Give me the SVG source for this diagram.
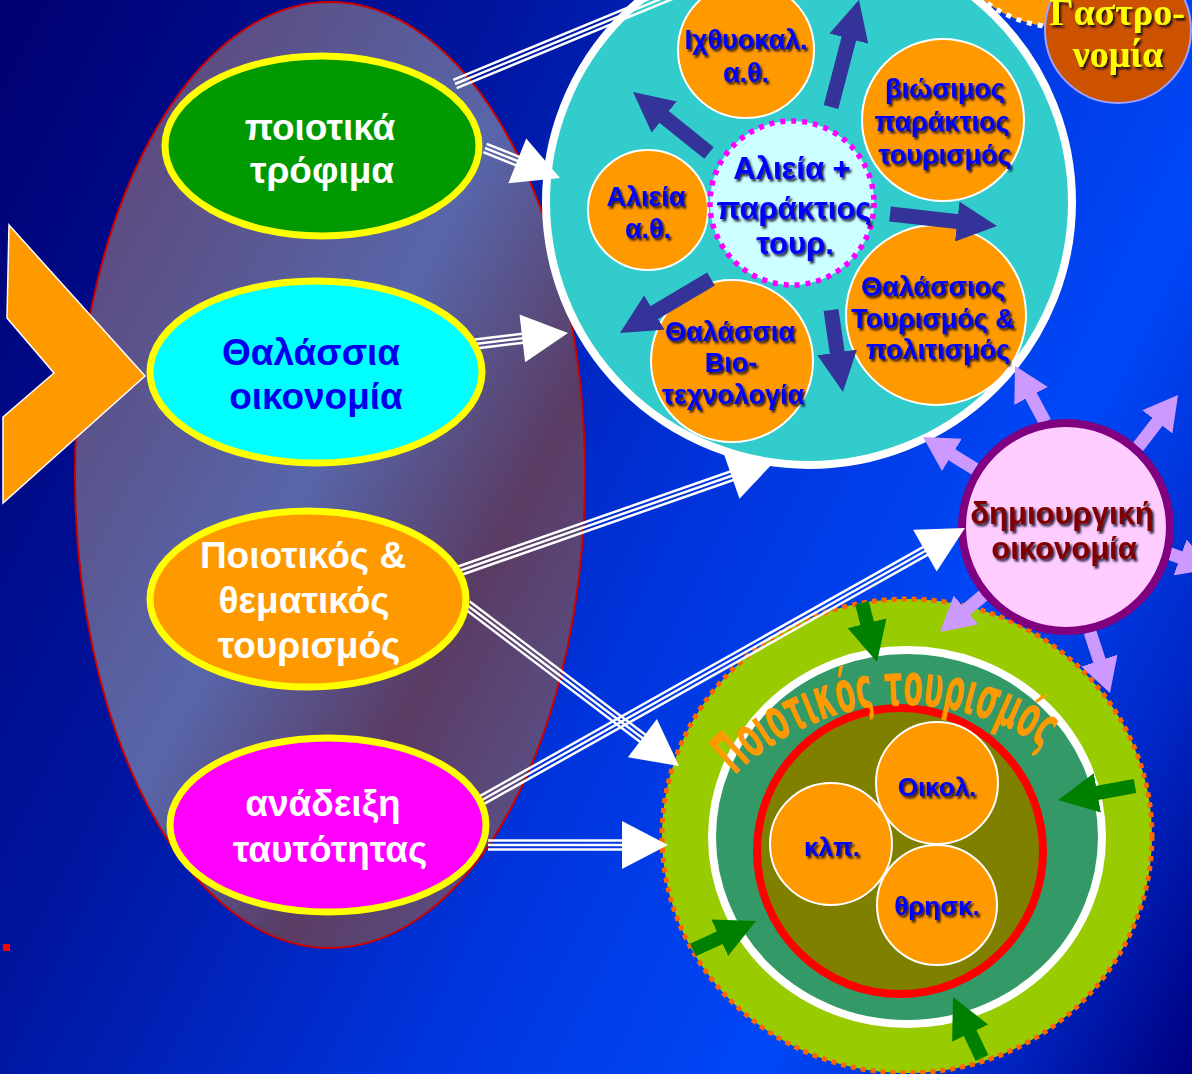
<svg xmlns="http://www.w3.org/2000/svg" width="1192" height="1074" viewBox="0 0 1192 1074">
<defs>
<linearGradient id="bg" gradientUnits="userSpaceOnUse" x1="0" y1="0" x2="1380" y2="690">
<stop offset="0" stop-color="#000070"/>
<stop offset="0.3" stop-color="#0016a0"/>
<stop offset="0.55" stop-color="#0034dc"/>
<stop offset="0.75" stop-color="#0048f8"/>
<stop offset="0.88" stop-color="#0028c8"/>
<stop offset="1" stop-color="#000080"/>
</linearGradient>
<linearGradient id="eg" x1="0" y1="0" x2="1" y2="1">
<stop offset="0" stop-color="#604070"/>
<stop offset="0.28" stop-color="#5a5690"/>
<stop offset="0.48" stop-color="#5866aa"/>
<stop offset="0.7" stop-color="#5a3c64"/>
<stop offset="1" stop-color="#5a5c9c"/>
</linearGradient>
<filter id="sh" x="-10%" y="-20%" width="130%" height="160%">
<feDropShadow dx="2" dy="2.5" stdDeviation="1" flood-color="#000022" flood-opacity="0.85"/>
</filter>
<marker id="mb" viewBox="0 0 40 40" refX="23" refY="20" markerWidth="40" markerHeight="40" markerUnits="userSpaceOnUse" orient="auto"><path d="M0,0 L40,20 L0,40z" fill="#333399"/></marker>
<marker id="mg" viewBox="0 0 40 40" refX="23" refY="20" markerWidth="40" markerHeight="40" markerUnits="userSpaceOnUse" orient="auto"><path d="M0,0 L40,20 L0,40z" fill="#008000"/></marker>
<marker id="ml" viewBox="0 0 34 38" refX="19" refY="19" markerWidth="34" markerHeight="38" markerUnits="userSpaceOnUse" orient="auto"><path d="M0,0 L34,19 L0,38z" fill="#cc99ff"/></marker>
<path id="arch" d="M734.6,775.6 A241,241 0 0 1 1043.2,748.6"/>
<path id="p1" d="M455,84 L680,-9"/>
<path id="p2" d="M485,148 L520,162"/>
<path id="p3" d="M467,345 L525,338"/>
<path id="p4" d="M456,572 L734,475"/>
<path id="p5" d="M467,605 L645,740"/>
<path id="p6" d="M482,800 L927,550"/>
<path id="p7" d="M488,845 L625,845"/>
</defs>
<style>
.tl{fill:none;stroke:#ffffff;stroke-width:2.5}
.hd{fill:#ffffff}
.yel{stroke:#ffff00;stroke-width:7}
.lt{font-family:"Liberation Sans",Arial,sans-serif;font-weight:bold;font-size:37px;text-anchor:middle}
.ct{font-family:"Liberation Sans",Arial,sans-serif;font-weight:bold;text-anchor:middle;fill:#0000ff}
.oc{fill:#ff9900;stroke:#ffffff;stroke-width:2}
.ba{fill:none;stroke:#333399;stroke-width:15;marker-end:url(#mb)}
.ga{fill:none;stroke:#008000;stroke-width:14;marker-end:url(#mg)}
.la{fill:none;stroke:#cc99ff;stroke-width:13;marker-end:url(#ml)}
</style>
<rect x="0" y="0" width="1192" height="1074" fill="url(#bg)"/>
<rect x="3" y="944" width="7" height="7" fill="#ff0000"/>

<g id="big-ellipse">
<ellipse cx="330" cy="475" rx="255" ry="473" fill="url(#eg)" stroke="#cc0000" stroke-width="2"/>
</g>
<g id="chevron">
<polygon points="9,225 145,376 3,503 3,417 54,373 7,318" fill="#ff9900" stroke="#ffffff" stroke-width="1.5"/>
</g>

<g id="gastro-back">
<circle cx="1060" cy="-95" r="122" fill="#ff9900" stroke="#ffffff" stroke-width="5" stroke-dasharray="5 6"/>
</g>

<g id="teal-circle">
<circle cx="809" cy="202" r="263" fill="#33cccc" stroke="#ffffff" stroke-width="8"/>
</g>
<g id="n-ixthyo">
<circle class="oc" cx="746" cy="50" r="68"/>
<text class="ct" font-size="27" filter="url(#sh)"><tspan x="746" y="49">Ιχθυοκαλ.</tspan><tspan x="746" y="82">α.θ.</tspan></text>
</g>
<g id="n-viosimos">
<circle class="oc" cx="943" cy="120" r="81"/>
<text class="ct" font-size="27" filter="url(#sh)"><tspan x="945" y="98">βιώσιμος</tspan><tspan x="942" y="131">παράκτιος</tspan><tspan x="945" y="164">τουρισμός</tspan></text>
</g>
<g id="n-alieia">
<circle class="oc" cx="648" cy="210" r="60"/>
<text class="ct" font-size="27" filter="url(#sh)"><tspan x="646" y="206">Αλιεία</tspan><tspan x="648" y="238">α.θ.</tspan></text>
</g>
<g id="n-biotech">
<circle class="oc" cx="732" cy="361" r="81"/>
<text class="ct" font-size="27" filter="url(#sh)"><tspan x="730" y="341">Θαλάσσια</tspan><tspan x="731" y="372">Βιο-</tspan><tspan x="733" y="404">τεχνολογία</tspan></text>
</g>
<g id="n-thal-tour">
<circle class="oc" cx="936" cy="315" r="90"/>
<text class="ct" font-size="27" filter="url(#sh)"><tspan x="933" y="296">Θαλάσσιος</tspan><tspan x="933" y="328">Τουρισμός &amp;</tspan><tspan x="938" y="359">πολιτισμός</tspan></text>
</g>
<g id="n-center">
<circle cx="792" cy="203" r="82" fill="#ccffff" stroke="#ff00ff" stroke-width="5.5" stroke-dasharray="5 6"/>
<text class="ct" font-size="31" filter="url(#sh)"><tspan x="792" y="179">Αλιεία +</tspan><tspan x="794" y="219">παράκτιος</tspan><tspan x="795" y="254">τουρ.</tspan></text>
</g>
<g id="teal-arrows">
<line class="ba" x1="831" y1="107" x2="854.7" y2="16.4"/>
<line class="ba" x1="709" y1="153" x2="646.3" y2="102.6"/>
<line class="ba" x1="890" y1="214" x2="980.1" y2="224.1"/>
<line class="ba" x1="831" y1="310" x2="840.5" y2="375.2"/>
<line class="ba" x1="711" y1="279" x2="634.6" y2="324.3"/>
</g>

<g id="n-gastro">
<circle cx="1118" cy="30" r="73" fill="#cc5200" stroke="#a0a0ff" stroke-width="2"/>
<text font-family="'Liberation Serif','Times New Roman',serif" font-weight="bold" font-size="38" fill="#ffff00" text-anchor="middle" filter="url(#sh)"><tspan x="1117" y="25">Γαστρο-</tspan><tspan x="1118" y="67">νομία</tspan></text>
</g>

<g id="n-poiotikos-tourismos">
<ellipse cx="907" cy="836" rx="245" ry="237" fill="#99cc00" stroke="#ff6600" stroke-width="5" stroke-dasharray="5 5"/>
<ellipse cx="907" cy="837" rx="195" ry="187" fill="#339966" stroke="#ffffff" stroke-width="8"/>
<circle cx="900" cy="851" r="143" fill="#808000" stroke="#ff0000" stroke-width="8"/>
<text font-family="'Liberation Sans Narrow','DejaVu Sans Condensed',sans-serif" font-weight="bold" font-size="58" fill="#ff9900"><textPath href="#arch" textLength="336" lengthAdjust="spacingAndGlyphs">Ποιοτικός τουρισμός</textPath></text>
</g>
<g id="n-oikol">
<circle class="oc" cx="937" cy="783" r="61"/>
<text class="ct" font-size="26" x="937" y="796" filter="url(#sh)">Οικολ.</text>
</g>
<g id="n-klp">
<circle class="oc" cx="831" cy="844" r="61"/>
<text class="ct" font-size="26" x="832" y="856" filter="url(#sh)">κλπ.</text>
</g>
<g id="n-thrisk">
<circle class="oc" cx="937" cy="905" r="60"/>
<text class="ct" font-size="26" x="937" y="915" filter="url(#sh)">θρησκ.</text>
</g>
<g id="green-arrows">
<line class="ga" x1="862" y1="603" x2="872.8" y2="645.5"/>
<line class="ga" x1="1135" y1="786" x2="1074.7" y2="797"/>
<line class="ga" x1="693" y1="950" x2="740.6" y2="928.1"/>
<line class="ga" x1="982" y1="1058" x2="960.3" y2="1012.4"/>
</g>

<g id="lilac-arrows">
<line class="la" x1="975" y1="469" x2="935.8" y2="444.9"/>
<line class="la" x1="1045" y1="422" x2="1022.1" y2="379.2"/>
<line class="la" x1="1138" y1="447" x2="1168.9" y2="406.9"/>
<line class="la" x1="1168" y1="553" x2="1198" y2="563.9"/>
<line class="la" x1="1090" y1="632" x2="1105.3" y2="678.7"/>
<line class="la" x1="985" y1="594" x2="951.5" y2="622.3"/>
</g>
<g id="n-dimiourgiki">
<circle cx="1066" cy="527" r="104" fill="#ffccff" stroke="#800080" stroke-width="8"/>
<text font-family="'Liberation Sans',Arial,sans-serif" font-weight="bold" font-size="31" fill="#800000" text-anchor="middle" filter="url(#sh)"><tspan x="1062" y="524">δημιουργική</tspan><tspan x="1064" y="559">οικονομία</tspan></text>
</g>

<g id="connectors">
<g id="c1"><use href="#p1" class="tl" transform="translate(-1.72,-4.16)"/><use href="#p1" class="tl"/><use href="#p1" class="tl" transform="translate(1.72,4.16)"/></g>
<g id="c2"><use href="#p2" class="tl" transform="translate(1.67,-4.18)"/><use href="#p2" class="tl"/><use href="#p2" class="tl" transform="translate(-1.67,4.18)"/><polygon class="hd" points="560,178 508.4,183.2 526.2,138.6"/></g>
<g id="c3"><use href="#p3" class="tl" transform="translate(-0.53,-4.47)"/><use href="#p3" class="tl"/><use href="#p3" class="tl" transform="translate(0.53,4.47)"/><polygon class="hd" points="568,333 525.1,362.2 519.5,314.6"/></g>
<g id="c4"><use href="#p4" class="tl" transform="translate(-1.48,-4.25)"/><use href="#p4" class="tl"/><use href="#p4" class="tl" transform="translate(1.48,4.25)"/><polygon class="hd" points="775,461 739.5,498.8 723.7,453.4"/></g>
<g id="c5"><use href="#p5" class="tl" transform="translate(2.72,-3.58)"/><use href="#p5" class="tl"/><use href="#p5" class="tl" transform="translate(-2.72,3.58)"/><polygon class="hd" points="679,766 627.9,757.3 656.9,719.1"/></g>
<g id="c6"><use href="#p6" class="tl" transform="translate(-2.21,-3.92)"/><use href="#p6" class="tl"/><use href="#p6" class="tl" transform="translate(2.21,3.92)"/><polygon class="hd" points="965,528 936.7,571.5 913.1,529.7"/></g>
<g id="c7"><use href="#p7" class="tl" transform="translate(0,-4.5)"/><use href="#p7" class="tl"/><use href="#p7" class="tl" transform="translate(0,4.5)"/><polygon class="hd" points="668,845 622,821 622,869"/></g>
</g>

<g id="n-trofima">
<ellipse cx="322" cy="146" rx="157" ry="90" fill="#009900" class="yel"/>
<text class="lt" fill="#ffffff"><tspan x="320" y="140">ποιοτικά</tspan><tspan x="322" y="183">τρόφιμα</tspan></text>
</g>
<g id="n-thalassia">
<ellipse cx="316" cy="372" rx="166" ry="91" fill="#00ffff" class="yel"/>
<text class="lt" fill="#0000ee"><tspan x="311" y="365">Θαλάσσια</tspan><tspan x="316" y="409">οικονομία</tspan></text>
</g>
<g id="n-poiotikos">
<ellipse cx="308" cy="599" rx="158" ry="88" fill="#ff9900" class="yel"/>
<text class="lt" fill="#ffffff"><tspan x="303" y="568">Ποιοτικός &amp;</tspan><tspan x="304" y="613">θεματικός</tspan><tspan x="309" y="658">τουρισμός</tspan></text>
</g>
<g id="n-anadeixi">
<ellipse cx="328" cy="825" rx="158" ry="87" fill="#ff00ff" class="yel"/>
<text class="lt" fill="#ffffff"><tspan x="323" y="816">ανάδειξη</tspan><tspan x="330" y="862">ταυτότητας</tspan></text>
</g>
</svg>
